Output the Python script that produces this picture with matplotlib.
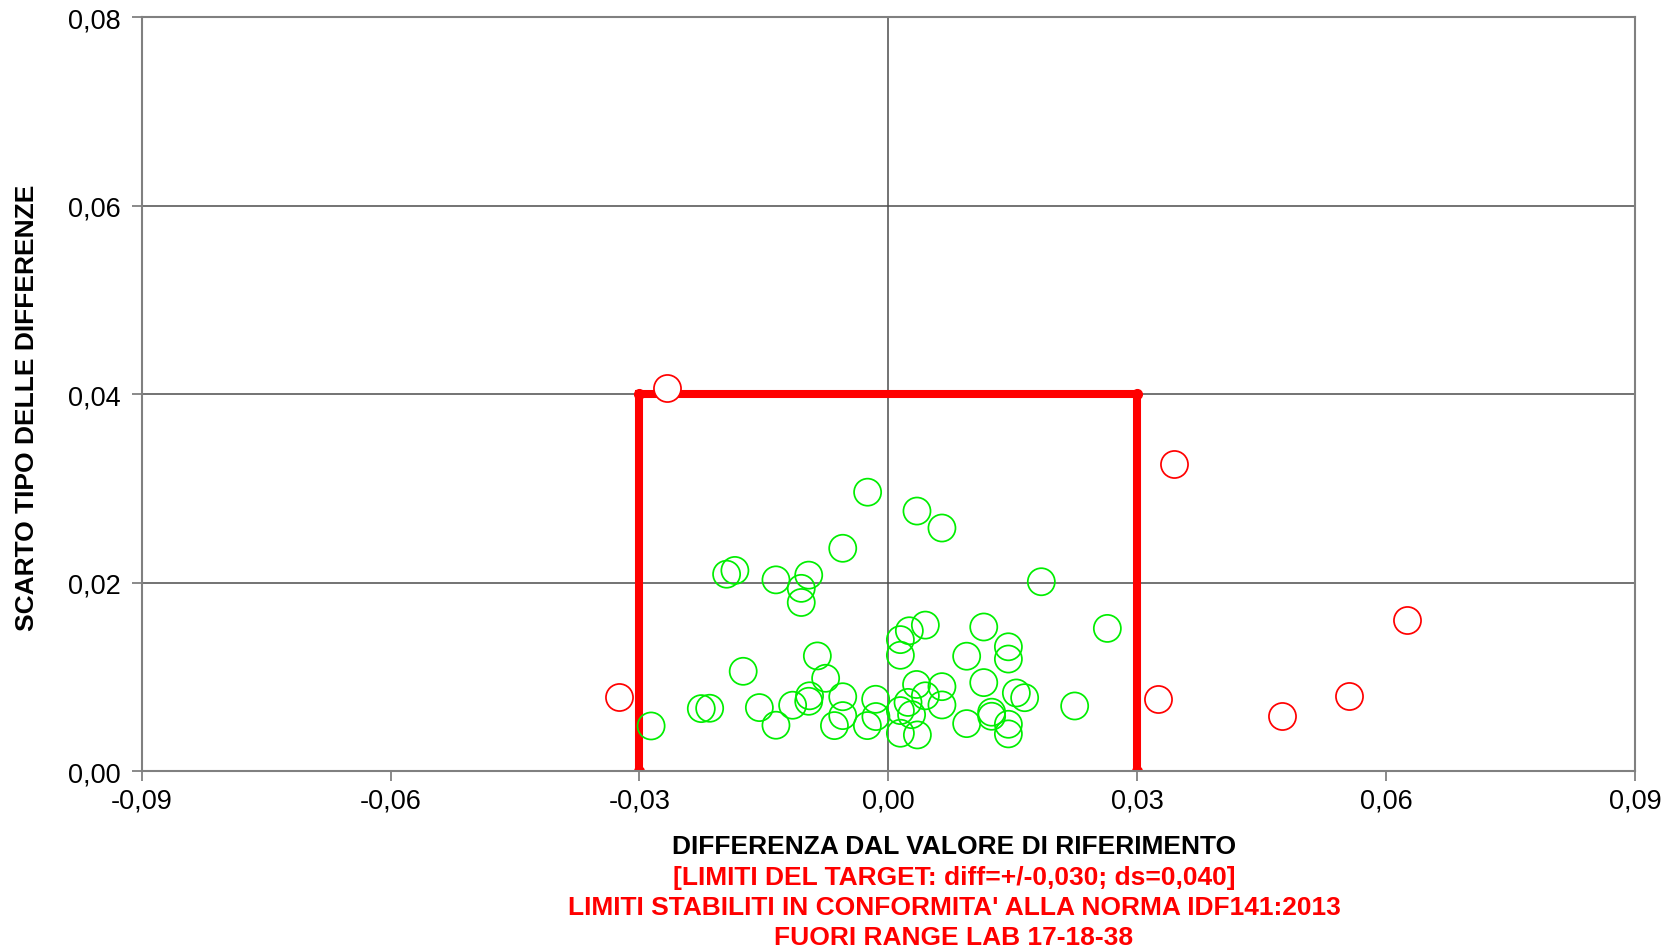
import matplotlib
matplotlib.use("Agg")
import matplotlib.pyplot as plt
from matplotlib.ticker import FixedLocator, FuncFormatter

plt.rcParams['font.family'] = ['Liberation Sans', 'DejaVu Sans']

# In-range labs (green)
green_x = [-0.0025, 0.00345, 0.00646, -0.0055, -0.0185, -0.0195, -0.01355, -0.0096,
           -0.0105, -0.0105, 0.01844, 0.00446, 0.00253, 0.00145, 0.00145, 0.0115,
           0.01447, 0.01447, 0.00944, 0.0264, -0.00856, -0.0175, -0.00756, -0.0286,
           -0.02255, -0.02154, -0.01555, -0.01355, -0.01154, -0.0095, -0.0096, -0.0055,
           -0.0055, -0.0065, -0.00153, -0.00253, -0.0015, 0.0034, 0.00646, 0.00646,
           0.00446, 0.00237, 0.00145, 0.0028, 0.00145, 0.0035, 0.0115, 0.00944,
           0.01245, 0.01245, 0.01447, 0.01447, 0.01543, 0.01643, 0.02246]
green_y = [0.0296, 0.0276, 0.0258, 0.02365, 0.0213, 0.0209, 0.0203, 0.0208,
           0.0194, 0.0179, 0.0201, 0.0155, 0.0149, 0.01396, 0.0123, 0.0153,
           0.0132, 0.0119, 0.0122, 0.01515, 0.01223, 0.0106, 0.00986, 0.0048,
           0.00664, 0.00668, 0.00675, 0.00488, 0.0070, 0.0080, 0.00742, 0.0079,
           0.0059, 0.00484, 0.00763, 0.00484, 0.0058, 0.0092, 0.00897, 0.00703,
           0.0080, 0.0073, 0.00643, 0.0060, 0.00403, 0.00385, 0.0094, 0.00505,
           0.00626, 0.00583, 0.00498, 0.00396, 0.0083, 0.0078, 0.00692]

# Out-of-range labs (red)
red_x = [-0.02663, -0.0325, 0.03448, 0.03247, 0.0475, 0.0555, 0.0625]
red_y = [0.04068, 0.00785, 0.0326, 0.00767, 0.00586, 0.00798, 0.0160]

# Target limits
limit_diff = 0.030
limit_ds = 0.040

x_ticks = [-0.09, -0.06, -0.03, 0.0, 0.03, 0.06, 0.09]
y_ticks = [0.0, 0.02, 0.04, 0.06, 0.08]

fig = plt.figure(figsize=(16.7, 9.53), dpi=100)
ax = fig.add_axes([0.0849, 0.1897, 0.979 - 0.0849, 0.981 - 0.1897])
ax.set_xlim(-0.09, 0.09)
ax.set_ylim(0, 0.08)

for s in ax.spines.values():
    s.set_color('#808080')
    s.set_linewidth(1.5)

for yv in y_ticks[1:-1]:
    ax.axhline(yv, color='#4d4d4d', lw=1.1, zorder=1)
ax.axvline(0, color='#4d4d4d', lw=1.1, zorder=1)

ax.plot([-limit_diff, -limit_diff, limit_diff, limit_diff],
        [0, limit_ds, limit_ds, 0], color='#ff0000', lw=5.8,
        marker='o', markersize=7, solid_joinstyle='miter', zorder=2)

ax.scatter(green_x, green_y, s=19.5**2, facecolors='none', edgecolors='#00ee00',
           linewidths=1.25, zorder=3)
ax.scatter(red_x, red_y, s=19.5**2, facecolors='white', edgecolors='#ff0000',
           linewidths=1.25, zorder=4)

ax.xaxis.set_major_locator(FixedLocator(x_ticks))
ax.yaxis.set_major_locator(FixedLocator(y_ticks))
fmt = FuncFormatter(lambda v, p: f"{v:.2f}".replace('.', ',').replace('-0,00', '0,00'))
ax.xaxis.set_major_formatter(fmt)
ax.yaxis.set_major_formatter(fmt)
ax.tick_params(axis='both', labelsize=19.5, color='#808080', length=7, width=1.3,
               direction='out')
ax.tick_params(axis='x', pad=5)
ax.tick_params(axis='y', pad=8)

fig.text(27 / 1670, 1 - 408 / 953, "SCARTO TIPO DELLE DIFFERENZE", fontsize=19,
         fontweight='bold', rotation=90, ha='center', va='center')

cx = 954 / 1670
lines = [("DIFFERENZA DAL VALORE DI RIFERIMENTO", 'black', 847),
         ("[LIMITI DEL TARGET: diff=+/-0,030; ds=0,040]", '#ff0000', 878),
         ("LIMITI STABILITI IN CONFORMITA' ALLA NORMA IDF141:2013", '#ff0000', 908),
         ("FUORI RANGE LAB 17-18-38", '#ff0000', 938)]
for txt, col, ypx in lines:
    fig.text(cx, 1 - ypx / 953, txt, color=col, fontsize=19, fontweight='bold',
             ha='center', va='center')

fig.savefig("out.png", dpi=100)
